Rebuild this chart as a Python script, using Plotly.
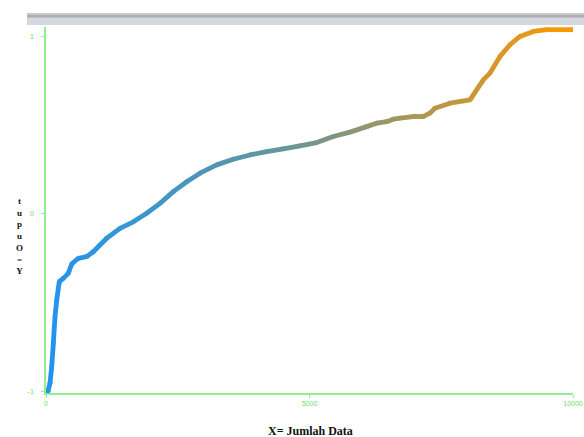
import plotly.graph_objects as go

# Data
x_data = [38, 76, 108, 139, 171, 203, 252, 328, 423, 488, 613, 772, 898, 1025, 1152,
          1404, 1657, 1911, 2163, 2416, 2670, 2922, 3239, 3554, 3871, 4188, 4503, 4820,
          5137, 5452, 5769, 6085, 6275, 6465, 6590, 6717, 6970, 7159, 7287, 7381, 7666,
          8046, 8298, 8425, 8615, 8805, 8994, 9247, 9501, 10000]
y_data = [-1.0, -0.955, -0.863, -0.731, -0.580, -0.486, -0.382, -0.363, -0.335, -0.282,
          -0.250, -0.241, -0.213, -0.175, -0.137, -0.081, -0.044, 0.004, 0.060, 0.126,
          0.182, 0.230, 0.277, 0.309, 0.333, 0.352, 0.367, 0.384, 0.403, 0.437, 0.462,
          0.493, 0.512, 0.521, 0.535, 0.541, 0.550, 0.550, 0.569, 0.597, 0.625, 0.644,
          0.757, 0.795, 0.889, 0.955, 1.002, 1.030, 1.040, 1.040]

x_ticks = [0, 5000, 10000]
x_tick_text = ["0", "5000", "10000"]
y_ticks = [-1, 0, 1]
y_tick_text = ["-1", "0", "1"]
x_title = "X= Jumlah Data"
y_title_chars = ["t", "u", "p", "u", "O", "=", "Y"]

STOPS = [(0.0, (33, 148, 240)), (0.45, (100, 150, 155)), (1.0, (255, 152, 0))]


def col(t):
    t = max(0.0, min(1.0, t))
    for (t0, c0), (t1, c1) in zip(STOPS[:-1], STOPS[1:]):
        if t <= t1:
            f = (t - t0) / (t1 - t0)
            return "rgb(%d,%d,%d)" % tuple(round(a + (b - a) * f) for a, b in zip(c0, c1))
    return "rgb(%d,%d,%d)" % STOPS[-1][1]


fig = go.Figure()
LW = 4.8
for i in range(len(x_data) - 1):
    t = ((x_data[i] + x_data[i + 1]) / 2) / 10000
    fig.add_trace(go.Scatter(x=[x_data[i], x_data[i + 1]], y=[y_data[i], y_data[i + 1]],
                             mode="lines", line=dict(color=col(t), width=LW),
                             hoverinfo="skip", showlegend=False))
fig.add_trace(go.Scatter(x=x_data, y=y_data, mode="markers",
                         marker=dict(size=LW, color=[col(v / 10000) for v in x_data],
                                     line=dict(width=0)),
                         hoverinfo="skip", showlegend=False))

green = "rgb(144,240,144)"
labgreen = "rgb(110,222,110)"

fig.update_layout(
    width=584, height=437,
    margin=dict(l=46, r=11, t=27, b=44, autoexpand=False),
    paper_bgcolor="white", plot_bgcolor="white",
    xaxis=dict(range=[0, 10000], tickvals=x_ticks, ticktext=x_tick_text, automargin=False,
               showgrid=False, zeroline=False, showline=True, linecolor=green, linewidth=2,
               ticks="outside", ticklen=3, tickcolor=green, tickwidth=1,
               tickfont=dict(family="Liberation Sans Narrow, Arial, sans-serif", size=7, color=labgreen)),
    yaxis=dict(range=[-1.01, 1.055], tickvals=y_ticks, ticktext=y_tick_text, automargin=False,
               showgrid=False, zeroline=False, showline=True, linecolor=green, linewidth=1.5,
               ticks="outside", ticklen=3, tickcolor=green, tickwidth=1, ticklabelstandoff=6,
               tickfont=dict(family="Liberation Sans Narrow, Arial, sans-serif", size=7, color=labgreen)),
    shapes=[
        dict(type="rect", xref="paper", yref="paper", x0=-0.036, x1=1.03,
             y0=(393 - 25) / 366, y1=(393 - 13) / 366,
             fillcolor="rgb(212,215,222)", line=dict(width=0), layer="above"),
        dict(type="rect", xref="paper", yref="paper", x0=-0.036, x1=1.03,
             y0=(393 - 17.5) / 366, y1=(393 - 15) / 366,
             fillcolor="rgb(172,174,180)", line=dict(width=0), layer="above"),
        dict(type="rect", xref="paper", yref="paper", x0=-0.036, x1=1.03,
             y0=(393 - 15) / 366, y1=(393 - 13) / 366,
             fillcolor="rgb(200,202,208)", line=dict(width=0), layer="above"),
    ],
)

annotations = [
    dict(text="<b>%s</b>" % x_title, xref="paper", yref="paper",
         x=(310 - 46) / 527, y=-(431 - 393) / 366, xanchor="center", yanchor="middle",
         showarrow=False,
         font=dict(family="Liberation Serif, Times New Roman, serif", size=12, color="#111")),
    dict(text="<b>" + "<br>".join(y_title_chars) + "</b>", xref="paper", yref="paper",
         x=(19 - 46) / 527, y=(393 - 236) / 366, xanchor="center", yanchor="middle",
         showarrow=False, align="center",
         font=dict(family="Liberation Serif, Times New Roman, serif", size=9, color="#111")),
]
fig.update_layout(annotations=annotations)

fig.write_html("out.html")
